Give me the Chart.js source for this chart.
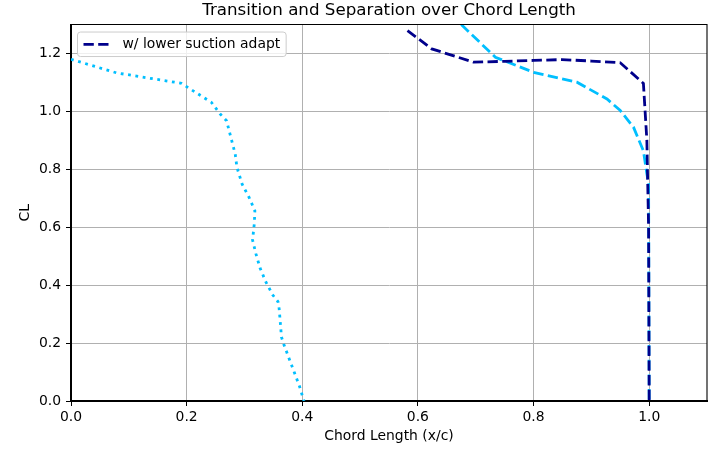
<!DOCTYPE html>
<html>
<head>
<meta charset="utf-8">
<script src="https://cdn.jsdelivr.net/npm/chart.js@4.4.1/dist/chart.umd.min.js"></script>
<style>
  html, body { margin: 0; padding: 0; background: #fff; }
  #wrap { width: 721px; height: 450px; }
</style>
</head>
<body>
<div id="wrap"><canvas id="ctx"></canvas></div>
<script>
// values
var suctionX = [0.582, 0.624, 0.696, 0.75, 0.80, 0.849, 0.90, 0.950, 0.990, 0.996, 0.999, 1.0];
var suctionY = [1.279, 1.216, 1.170, 1.173, 1.176, 1.179, 1.174, 1.168, 1.097, 0.90, 0.60, 0.0];

var sepX = [0.675, 0.734, 0.800, 0.875, 0.927, 0.950, 0.973, 0.990, 0.996, 0.999, 1.0];
var sepY = [1.300, 1.187, 1.135, 1.101, 1.043, 1.003, 0.945, 0.864, 0.785, 0.750, 0.0];

var transX = [0.0, 0.079, 0.191, 0.209, 0.243, 0.258, 0.269, 0.275, 0.284, 0.287, 0.296, 0.308, 0.318,
              0.317, 0.314, 0.320, 0.327, 0.337, 0.349, 0.358, 0.360, 0.362, 0.364, 0.368, 0.377, 0.386, 0.395, 0.403];
var transY = [1.180, 1.133, 1.097, 1.074, 1.031, 0.991, 0.968, 0.922, 0.853, 0.807, 0.749, 0.703, 0.657,
              0.611, 0.556, 0.507, 0.459, 0.411, 0.366, 0.343, 0.319, 0.271, 0.221, 0.196, 0.148, 0.100, 0.052, 0.0];

var xTicks = [0.0, 0.2, 0.4, 0.6, 0.8, 1.0];
var yTicks = [0.0, 0.2, 0.4, 0.6, 0.8, 1.0, 1.2];

var FONT = 'DejaVu Sans';

function pts(xs, ys) {
    var out = [];
    for (var i = 0; i < xs.length; i++) {
        out.push({ x: xs[i], y: ys[i] });
    }
    return out;
}

// top / right spines and a matplotlib style legend for the first dataset
var framePlugin = {
    id: 'frame',
    afterDraw: function (chart) {
        var a = chart.chartArea;
        var c = chart.ctx;
        c.save();
        c.strokeStyle = '#000';
        c.lineWidth = 1.1;
        c.beginPath();
        c.moveTo(a.left, a.top);
        c.lineTo(a.right, a.top);
        c.lineTo(a.right, a.bottom);
        c.stroke();

        var ds = chart.data.datasets[0];
        c.font = '13.9px "' + FONT + '"';
        var tw = c.measureText(ds.label).width;
        var bx = a.left + 6.5, by = a.top + 7.5;
        var bw = 45 + tw + 6, bh = 24.5;
        c.fillStyle = 'rgba(255,255,255,0.8)';
        c.strokeStyle = '#cccccc';
        c.lineWidth = 1;
        c.beginPath();
        c.roundRect(bx, by, bw, bh, 3);
        c.fill();
        c.stroke();

        var cy = by + bh / 2;
        c.strokeStyle = ds.borderColor;
        c.lineWidth = ds.borderWidth;
        c.setLineDash(ds.borderDash);
        c.beginPath();
        c.moveTo(bx + 6, cy);
        c.lineTo(bx + 34, cy);
        c.stroke();
        c.setLineDash([]);

        c.fillStyle = '#000';
        c.textBaseline = 'middle';
        c.textAlign = 'left';
        c.fillText(ds.label, bx + 45, cy + 0.5);
        c.restore();
    }
};

const ctx = document.getElementById('ctx');
const myChart = new Chart(ctx, {
    type: 'line',
    data: {
        datasets: [
            {
                label: 'w/ lower suction adapt',
                data: pts(suctionX, suctionY),
                borderColor: '#00008b',
                backgroundColor: '#00008b',
                borderWidth: 2.8,
                borderDash: [10.3, 4.4],
                pointRadius: 0,
                fill: false,
                tension: 0
            },
            {
                label: 'separation',
                data: pts(sepX, sepY),
                borderColor: '#00bfff',
                backgroundColor: '#00bfff',
                borderWidth: 2.8,
                borderDash: [10.3, 4.4],
                pointRadius: 0,
                fill: false,
                tension: 0
            },
            {
                label: 'transition',
                data: pts(transX, transY),
                borderColor: '#00bfff',
                backgroundColor: '#00bfff',
                borderWidth: 2.8,
                borderDash: [2.8, 4.6],
                pointRadius: 0,
                fill: false,
                tension: 0
            }
        ]
    },
    options: {
        responsive: true,
        maintainAspectRatio: false,
        animation: false,
        layout: { padding: { left: 0, right: 14, top: 0, bottom: 0 } },
        plugins: {
            title: {
                display: true,
                fullSize: false,
                text: 'Transition and Separation over Chord Length',
                color: '#000',
                font: { family: FONT, size: 16.7, weight: 'normal' },
                padding: { top: 1, bottom: 3.5 }
            },
            legend: { display: false },
            tooltip: { enabled: false }
        },
        scales: {
            x: {
                type: 'linear',
                min: 0,
                max: 1.1,
                afterBuildTicks: function (scale) {
                    scale.ticks = xTicks.map(function (v) { return { value: v }; });
                },
                afterFit: function (scale) { scale.height = 49; },
                ticks: {
                    color: '#000',
                    font: { family: FONT, size: 13.9 },
                    padding: 3,
                    maxRotation: 0,
                    callback: function (v) { return Number(v).toFixed(1); }
                },
                grid: { color: '#b0b0b0', lineWidth: 1, tickLength: 5, tickColor: '#000', tickWidth: 1 },
                border: { display: true, color: '#000', width: 2 },
                title: {
                    display: true,
                    text: 'Chord Length (x/c)',
                    color: '#000',
                    font: { family: FONT, size: 13.9 },
                    padding: { top: 2, bottom: 5 }
                }
            },
            y: {
                type: 'linear',
                min: 0,
                max: 1.3,
                afterBuildTicks: function (scale) {
                    scale.ticks = yTicks.map(function (v) { return { value: v }; });
                },
                afterFit: function (scale) { scale.width = 71; },
                ticks: {
                    color: '#000',
                    font: { family: FONT, size: 13.9 },
                    padding: 5,
                    callback: function (v) { return Number(v).toFixed(1); }
                },
                grid: { color: '#b0b0b0', lineWidth: 1, tickLength: 5, tickColor: '#000', tickWidth: 1 },
                border: { display: true, color: '#000', width: 2 },
                title: {
                    display: true,
                    text: 'CL',
                    color: '#000',
                    font: { family: FONT, size: 13.9 },
                    padding: { top: 17, bottom: 0 }
                }
            }
        }
    },
    plugins: [framePlugin]
});
</script>
</body>
</html>
